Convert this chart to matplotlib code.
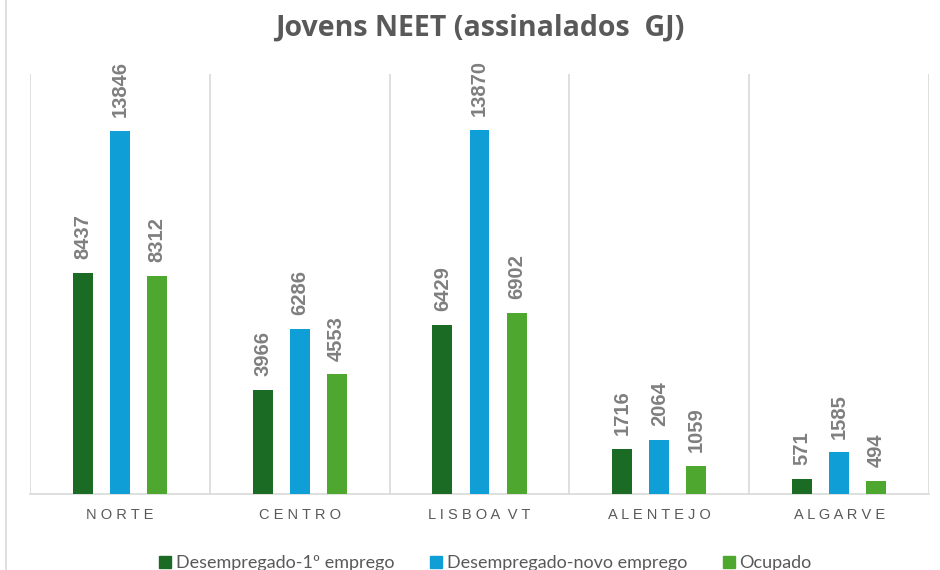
import numpy as np
import matplotlib.pyplot as plt
from matplotlib.lines import Line2D

regioes = ["NORTE", "CENTRO", "LISBOA VT", "ALENTEJO", "ALGARVE"]
primeiro_emprego = [8437, 3966, 6429, 1716, 571]
novo_emprego = [13846, 6286, 13870, 2064, 1585]
ocupado = [8312, 4553, 6902, 1059, 494]
series_nomes = ["Desempregado-1º emprego", "Desempregado-novo emprego", "Ocupado"]
cores = ["#1B6B24", "#0F9ED5", "#4EA72E"]

plt.rcParams['font.family'] = ['Liberation Sans', 'DejaVu Sans']

fig = plt.figure(figsize=(9.4, 5.7), dpi=100)
ax = fig.add_axes([30/940, 1 - 494/570, 899/940, 420/570])

x = np.arange(len(regioes))
largura = 0.111
passo = 0.206
series = [primeiro_emprego, novo_emprego, ocupado]
for i, (vals, cor, nome) in enumerate(zip(series, cores, series_nomes)):
    barras = ax.bar(x + (i - 1) * passo, vals, width=largura, color=cor, label=nome, zorder=3)
    ax.bar_label(barras, labels=[str(v) for v in vals], rotation=90, padding=10,
                 fontsize=14.5, fontweight='bold', color='#7F7F7F')

ax.set_xlim(-0.5, len(regioes) - 0.5)
ax.set_ylim(0, 16000)
ax.set_yticks([])
ax.set_xticks(x)
ax.set_xticklabels([" ".join(r).replace("   ", "  ") for r in regioes],
                   fontsize=10.5, color='#595959')
ax.tick_params(axis='x', length=0, pad=10)
for b in np.arange(-0.5, len(regioes), 1.0):
    ax.axvline(b, color='#D9D9D9', lw=1.2, zorder=1)
for s in ['top', 'right', 'left']:
    ax.spines[s].set_visible(False)
ax.spines['bottom'].set_color('#D9D9D9')
ax.spines['bottom'].set_linewidth(1.2)

fig.text(480/940, 1 - 28/570, "Jovens NEET (assinalados  GJ)", ha='center', va='center',
         fontsize=20.5, fontweight='bold', color='#595959', family=['Open Sans', 'DejaVu Sans'])

handles = [Line2D([], [], marker='s', ls='', markersize=8, color=c) for c in cores]
fig.legend(handles, series_nomes, loc='center', bbox_to_anchor=(484/940, 1 - 563/570),
           ncol=3, frameon=False, labelcolor='#595959',
           prop={'family': ['Lato', 'DejaVu Sans'], 'size': 13},
           handletextpad=0.1, columnspacing=1.8, handlelength=1.0)

fig.add_artist(Line2D([6/940, 6/940], [0, 1], color='#D9D9D9', lw=1.2))

fig.savefig("out.png", dpi=100)
